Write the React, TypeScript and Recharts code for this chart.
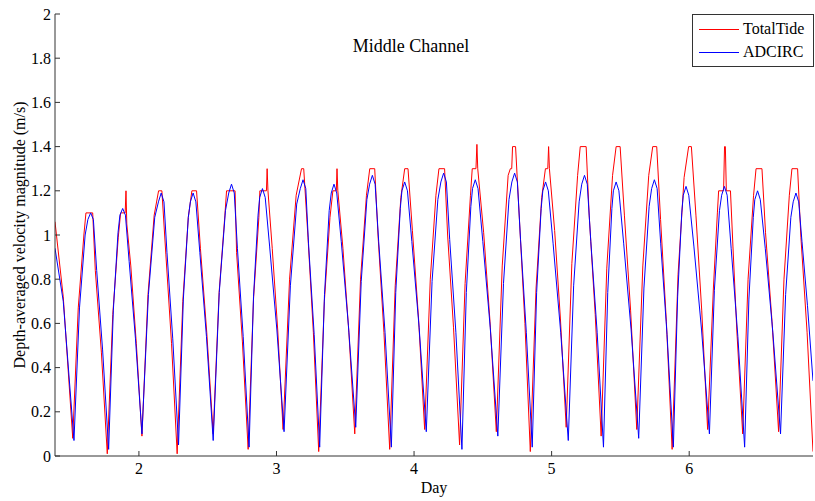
import { Line, LineChart, XAxis, YAxis } from "recharts";

// [day, velocity magnitude (m/s)]
const totalTide: [number, number][] = [
  [1.39, 1.06], [1.45, 0.72], [1.519, 0.08],
  [1.559, 0.67], [1.6, 1.0], [1.615, 1.1], [1.664, 1.1], [1.683, 0.84], [1.727, 0.47], [1.77, 0.01],
  [1.81, 0.64], [1.85, 0.99], [1.867, 1.1], [1.9, 1.1], [1.906, 1.2], [1.912, 1.05], [1.941, 0.86], [1.981, 0.51], [2.022, 0.09],
  [2.066, 0.73], [2.111, 1.09], [2.143, 1.2], [2.167, 1.2], [2.196, 0.91], [2.237, 0.51], [2.278, 0.01],
  [2.319, 0.7], [2.359, 1.08], [2.385, 1.2], [2.419, 1.2], [2.447, 0.94], [2.493, 0.56], [2.54, 0.1],
  [2.583, 0.74], [2.625, 1.09], [2.637, 1.2], [2.699, 1.2], [2.71, 0.92], [2.752, 0.52], [2.794, 0.03],
  [2.833, 0.71], [2.872, 1.08], [2.879, 1.2], [2.927, 1.2], [2.932, 1.3], [2.938, 1.2], [2.969, 0.94], [3.009, 0.57], [3.048, 0.12],
  [3.095, 0.8], [3.143, 1.18], [3.182, 1.3], [3.198, 1.3], [3.229, 0.99], [3.268, 0.56], [3.307, 0.02],
  [3.348, 0.7], [3.389, 1.08], [3.41, 1.2], [3.435, 1.2], [3.44, 1.3], [3.446, 1.2], [3.483, 0.94], [3.526, 0.56], [3.569, 0.1],
  [3.611, 0.8], [3.654, 1.18], [3.678, 1.3], [3.714, 1.3], [3.738, 1.0], [3.781, 0.56], [3.823, 0.03],
  [3.863, 0.77], [3.904, 1.17], [3.932, 1.3], [3.956, 1.3], [3.988, 1.02], [4.033, 0.62], [4.077, 0.12],
  [4.118, 0.8], [4.159, 1.18], [4.181, 1.3], [4.222, 1.3], [4.244, 1.0], [4.287, 0.58], [4.331, 0.05],
  [4.371, 0.78], [4.41, 1.18], [4.423, 1.3], [4.45, 1.3], [4.457, 1.41], [4.463, 1.3], [4.506, 1.01], [4.552, 0.61], [4.598, 0.11],
  [4.641, 0.86], [4.684, 1.27], [4.7, 1.3], [4.71, 1.3], [4.716, 1.4], [4.738, 1.4], [4.766, 1.07], [4.806, 0.6], [4.845, 0.02],
  [4.887, 0.76], [4.928, 1.17], [4.955, 1.3], [4.972, 1.3], [4.978, 1.4], [4.984, 1.3], [5.022, 1.02], [5.064, 0.62], [5.106, 0.13],
  [5.147, 0.87], [5.189, 1.27], [5.208, 1.4], [5.251, 1.4], [5.273, 1.09], [5.317, 0.64], [5.36, 0.09],
  [5.401, 0.85], [5.443, 1.27], [5.469, 1.4], [5.498, 1.4], [5.529, 1.09], [5.574, 0.66], [5.619, 0.12],
  [5.663, 0.86], [5.706, 1.27], [5.735, 1.4], [5.764, 1.4], [5.792, 1.07], [5.834, 0.61], [5.876, 0.03],
  [5.919, 0.82], [5.963, 1.26], [5.996, 1.4], [6.016, 1.4], [6.049, 1.09], [6.091, 0.66], [6.134, 0.12],
  [6.176, 0.76], [6.205, 1.1], [6.214, 1.2], [6.25, 1.2], [6.257, 1.4], [6.263, 1.4], [6.27, 1.2], [6.3, 1.2], [6.318, 0.95], [6.346, 0.57], [6.389, 0.1],
  [6.428, 0.8], [6.468, 1.18], [6.486, 1.3], [6.529, 1.3], [6.555, 1.01], [6.602, 0.61], [6.65, 0.11],
  [6.689, 0.8], [6.728, 1.18], [6.747, 1.3], [6.788, 1.3], [6.812, 0.99], [6.857, 0.56], [6.9, 0.02],
];

const adcirc: [number, number][] = [
  [1.39, 0.94], [1.45, 0.7], [1.528, 0.07],
  [1.568, 0.67], [1.609, 1.0], [1.629, 1.07], [1.649, 1.1], [1.669, 1.07], [1.693, 0.84], [1.736, 0.48], [1.78, 0.03],
  [1.814, 0.66], [1.848, 1.01], [1.862, 1.09], [1.882, 1.12], [1.902, 1.09], [1.929, 0.88], [1.975, 0.53], [2.022, 0.1],
  [2.069, 0.73], [2.115, 1.08], [2.142, 1.15], [2.162, 1.19], [2.182, 1.15], [2.204, 0.92], [2.246, 0.53], [2.288, 0.05],
  [2.323, 0.71], [2.359, 1.08], [2.374, 1.15], [2.394, 1.19], [2.414, 1.15], [2.443, 0.92], [2.491, 0.54], [2.54, 0.07],
  [2.584, 0.74], [2.629, 1.11], [2.653, 1.19], [2.673, 1.23], [2.693, 1.19], [2.716, 0.94], [2.758, 0.54], [2.801, 0.04],
  [2.833, 0.72], [2.866, 1.09], [2.878, 1.17], [2.898, 1.21], [2.918, 1.17], [2.95, 0.95], [3.003, 0.57], [3.055, 0.11],
  [3.101, 0.77], [3.147, 1.14], [3.173, 1.21], [3.193, 1.25], [3.213, 1.21], [3.233, 0.96], [3.274, 0.55], [3.314, 0.04],
  [3.349, 0.73], [3.383, 1.11], [3.398, 1.19], [3.418, 1.23], [3.438, 1.19], [3.471, 0.97], [3.523, 0.59], [3.576, 0.13],
  [3.616, 0.79], [3.657, 1.16], [3.677, 1.23], [3.697, 1.27], [3.717, 1.23], [3.743, 0.97], [3.789, 0.56], [3.835, 0.04],
  [3.867, 0.74], [3.9, 1.12], [3.912, 1.2], [3.932, 1.24], [3.952, 1.2], [3.984, 0.97], [4.037, 0.58], [4.089, 0.11],
  [4.131, 0.79], [4.173, 1.16], [4.195, 1.24], [4.215, 1.28], [4.235, 1.24], [4.259, 0.98], [4.304, 0.56], [4.348, 0.03],
  [4.38, 0.74], [4.413, 1.13], [4.425, 1.21], [4.445, 1.25], [4.465, 1.21], [4.5, 0.97], [4.554, 0.58], [4.609, 0.09],
  [4.65, 0.78], [4.69, 1.16], [4.711, 1.24], [4.731, 1.28], [4.751, 1.24], [4.774, 0.98], [4.816, 0.56], [4.859, 0.04],
  [4.891, 0.74], [4.924, 1.12], [4.936, 1.2], [4.956, 1.24], [4.976, 1.2], [5.011, 0.96], [5.066, 0.56], [5.121, 0.07],
  [5.16, 0.77], [5.2, 1.15], [5.219, 1.23], [5.239, 1.27], [5.259, 1.23], [5.285, 0.97], [5.331, 0.56], [5.377, 0.04],
  [5.408, 0.74], [5.438, 1.12], [5.449, 1.2], [5.469, 1.24], [5.489, 1.2], [5.524, 0.96], [5.578, 0.57], [5.633, 0.08],
  [5.671, 0.76], [5.709, 1.13], [5.727, 1.21], [5.747, 1.25], [5.767, 1.21], [5.793, 0.96], [5.839, 0.55], [5.885, 0.04],
  [5.916, 0.72], [5.946, 1.1], [5.957, 1.18], [5.977, 1.22], [5.997, 1.18], [6.034, 0.95], [6.09, 0.57], [6.147, 0.1],
  [6.183, 0.75], [6.22, 1.11], [6.236, 1.18], [6.256, 1.22], [6.276, 1.18], [6.305, 0.94], [6.354, 0.54], [6.403, 0.04],
  [6.434, 0.71], [6.466, 1.08], [6.477, 1.16], [6.497, 1.2], [6.517, 1.16], [6.553, 0.94], [6.608, 0.56], [6.664, 0.1],
  [6.701, 0.73], [6.739, 1.08], [6.756, 1.15], [6.776, 1.19], [6.796, 1.15], [6.82, 0.97], [6.86, 0.68], [6.9, 0.34],
];

const xTicks = [2, 3, 4, 5, 6];
const yTicks = [0, 0.2, 0.4, 0.6, 0.8, 1, 1.2, 1.4, 1.6, 1.8, 2];
const seriesNames = ["TotalTide", "ADCIRC"];
const seriesColors = ["#ff0000", "#0000ff"];

const FONT = '"Liberation Serif", "Times New Roman", serif';
const AXIS = "#333";
const TICK_LEN = 5;

const toRows = (pts: [number, number][]) => pts.map(([day, v]) => ({ day, v }));

function LeftTick({ x, y, payload }: any) {
  return (
    <g>
      <line x1={x + 4} x2={x + 4 + TICK_LEN} y1={y} y2={y} stroke={AXIS} />
      <text x={x} y={y} dy={5.5} textAnchor="end" fontSize={16} fontFamily={FONT} fill="#000">
        {String(payload.value)}
      </text>
    </g>
  );
}

function RightTick({ x, y }: any) {
  return <line x1={x - TICK_LEN} x2={x} y1={y} y2={y} stroke={AXIS} />;
}

function BottomTick({ x, y, payload }: any) {
  return (
    <g>
      <line x1={x} x2={x} y1={y - TICK_LEN} y2={y} stroke={AXIS} />
      <text x={x} y={y} dy={18} textAnchor="middle" fontSize={16} fontFamily={FONT} fill="#000">
        {payload.value}
      </text>
    </g>
  );
}

function TopTick({ x, y }: any) {
  return <line x1={x} x2={x} y1={y} y2={y + TICK_LEN} stroke={AXIS} />;
}

export default function App() {
  const series = [toRows(totalTide), toRows(adcirc)];
  const text = { position: "absolute" as const, fontFamily: FONT, fontSize: 16, whiteSpace: "nowrap" as const, color: "#000" };

  return (
    <div style={{ position: "absolute", left: 0, top: 0, width: 815, height: 501, background: "#fff" }}>
      <LineChart width={815} height={501} margin={{ top: 14, right: 2, bottom: 0, left: 0 }}>
        <XAxis
          xAxisId="b"
          dataKey="day"
          type="number"
          domain={[1.39, 6.9]}
          allowDataOverflow
          ticks={xTicks}
          height={45}
          tickSize={0}
          tickMargin={0}
          tickLine={false}
          axisLine={{ stroke: AXIS }}
          tick={<BottomTick />}
        />
        <XAxis
          xAxisId="t"
          orientation="top"
          dataKey="day"
          type="number"
          domain={[1.39, 6.9]}
          allowDataOverflow
          ticks={xTicks}
          height={0}
          tickSize={0}
          tickMargin={0}
          tickLine={false}
          axisLine={{ stroke: AXIS }}
          tick={<TopTick />}
        />
        <YAxis
          yAxisId="l"
          type="number"
          domain={[0, 2]}
          ticks={yTicks}
          width={55}
          tickSize={0}
          tickMargin={4}
          tickLine={false}
          axisLine={{ stroke: AXIS }}
          tick={<LeftTick />}
        />
        <YAxis
          yAxisId="r"
          orientation="right"
          type="number"
          domain={[0, 2]}
          ticks={yTicks}
          width={0}
          tickSize={0}
          tickMargin={0}
          tickLine={false}
          axisLine={{ stroke: AXIS }}
          tick={<RightTick />}
        />
        {series.map((rows, i) => (
          <Line
            key={seriesNames[i]}
            xAxisId="b"
            yAxisId="l"
            data={rows}
            dataKey="v"
            name={seriesNames[i]}
            type="linear"
            stroke={seriesColors[i]}
            strokeWidth={1}
            dot={false}
            activeDot={false}
            isAnimationActive={false}
          />
        ))}
      </LineChart>

      <div style={{ ...text, fontSize: 18, left: 411, top: 46, transform: "translate(-50%, -50%)" }}>
        Middle Channel
      </div>
      <div style={{ ...text, left: 434, top: 488, transform: "translate(-50%, -50%)" }}>Day</div>
      <div style={{ ...text, left: 20, top: 235, transform: "translate(-50%, -50%) rotate(-90deg)" }}>
        Depth-averaged velocity magnitude (m/s)
      </div>

      <div
        style={{
          position: "absolute",
          left: 692,
          top: 14,
          width: 120,
          height: 51,
          border: `1px solid ${AXIS}`,
          background: "#fff",
        }}
      >
        {seriesNames.map((name, i) => (
          <div key={name} style={{ position: "absolute", left: 6, top: 4 + i * 23, height: 20, display: "flex", alignItems: "center" }}>
            <div style={{ width: 40, height: 1, background: seriesColors[i] }} />
            <span style={{ ...text, position: "static", marginLeft: 4 }}>{name}</span>
          </div>
        ))}
      </div>
    </div>
  );
}
